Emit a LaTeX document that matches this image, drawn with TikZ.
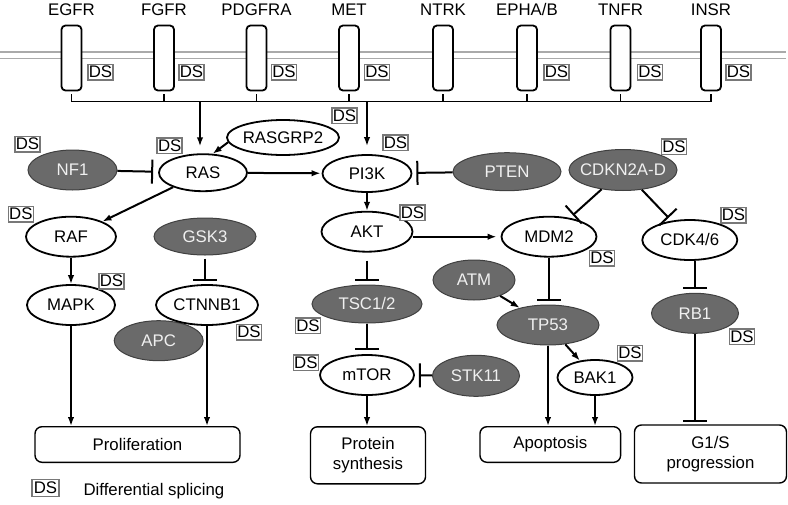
\documentclass[tikz,border=0pt]{standalone}
\usepackage{fontspec}
\setmainfont{Liberation Sans}
\usetikzlibrary{arrows.meta,shapes.geometric}
\newcommand{\zw}[1]{\makebox[0pt]{#1}}
\definecolor{dkgray}{RGB}{106,106,106}
\definecolor{dsgray}{RGB}{120,120,120}
\definecolor{memgray}{RGB}{170,170,170}
\begin{document}
\begin{tikzpicture}[x=1pt,y=-1pt,
  every node/.style={font=\fontsize{16.8}{20}\selectfont},
  sz/.style 2 args={minimum width=#1pt, minimum height=#2pt},
  ell/.style={ellipse, draw=black, line width=1.8pt, fill=white, inner sep=0pt, text height=11.8pt, text depth=0pt},
  dark/.style={ellipse, draw=black!75, line width=1pt, fill=dkgray, text=white!94!black, inner sep=0pt, text height=11.8pt, text depth=0pt},
  ds/.style={draw=dsgray, line width=1.5pt, fill=white, minimum width=25pt, minimum height=15.5pt, inner sep=0pt, text height=11.8pt, text depth=0pt},
  rec/.style={draw=black, line width=1.8pt, rounded corners=4pt, fill=white, minimum width=20pt, minimum height=65pt, inner sep=0pt},
  outbox/.style={draw=black, line width=1.4pt, rounded corners=7pt, fill=white, inner sep=0pt, align=center},
  arr/.style={line width=2pt, -{Latex[length=9pt,width=6.5pt]}},
  inh/.style={line width=2pt, -{Bar[width=24pt,line width=2pt]}, shorten >=4pt},
  ln/.style={line width=1.6pt}
]
\useasboundingbox (0,0) rectangle (788,504);
% membrane
\draw[memgray, line width=1.6pt] (0,52) -- (786,52);
\draw[memgray, line width=1.6pt] (0,58.5) -- (786,58.5);
% receptors
\foreach \n/\x/\t in {egfr/71.5/EGFR, fgfr/164/FGFR, pdgfra/256.5/PDGFRA, met/349/MET, ntrk/443/NTRK, epha/527/EPHA\slash B, tnfr/620.5/TNFR, insr/711/INSR}{
  \node[rec] (\n) at (\x,58) {};
  \node[anchor=base] (l\n) at (\x,15) {\t};
}
\foreach \n/\x in {egfr/100.5, fgfr/191.5, pdgfra/284, met/377, epha/556.5, tnfr/650, insr/738.5}{
  \node[ds] (ds\n) at (\x,72) {\zw{DS}};
}
% bus
\coordinate (busL) at (71.5,101.5);
\coordinate (busR) at (711,101.5);
\draw[ln] (busL) -- (busR);
\foreach \n in {egfr,fgfr,pdgfra,met,ntrk,epha,tnfr,insr}{
  \draw[ln, shorten <=3pt] (\n.south) -- (\n.south |- busL);
}
% nodes
\node[ell, sz={88}{37}] (ras) at (203,172.7) {\zw{RAS}};
\node[ell, sz={112}{35}] (rasgrp2) at (283,137.5) {\zw{RASGRP2}};
\node[ell, sz={89}{37}] (pi3k) at (367,173.5) {\zw{PI3K}};
\node[dark, sz={89}{40}] (nf1) at (72.5,170) {\zw{NF1}};
\node[ell, sz={90}{40}] (raf) at (71,236.7) {\zw{RAF}};
\node[dark, sz={102}{37}] (gsk3) at (205,236.5) {\zw{GSK3}};
\node[ell, sz={88}{40}] (mapk) at (71,305) {\zw{MAPK}};
\node[dark, sz={89}{40}] (apc) at (158.7,340.7) {\zw{APC}};
\node[ell, fill=none, sz={102}{40}] (ctnnb1) at (207,305) {\zw{CTNNB1}};
\node[ell, sz={91}{40}] (akt) at (367,231.7) {\zw{AKT}};
\node[ell, sz={95}{40}] (mdm2) at (549,236.7) {\zw{MDM2}};
\node[dark, sz={110}{38}] (tsc) at (367,304) {\zw{TSC1/2}};
\node[ell, sz={94}{40}] (mtor) at (367,375) {\zw{mTOR}};
\node[dark, sz={87}{41}] (stk11) at (476,375.8) {\zw{STK11}};
\node[dark, sz={108}{38}] (pten) at (507,171.7) {\zw{PTEN}};
\node[dark, sz={108}{41}] (cdkn) at (623,170) {\zw{CDKN2A-D}};
\node[ell, sz={95}{40}] (cdk46) at (689.8,240) {\zw{CDK4/6}};
\node[dark, sz={87}{40}] (rb1) at (695,313.3) {\zw{RB1}};
\node[dark, sz={82}{40}] (atm) at (474,280) {\zw{ATM}};
\node[dark, sz={102}{40}] (tp53) at (548,325) {\zw{TP53}};
\node[ell, sz={75}{35}] (bak1) at (595,377.5) {\zw{BAK1}};
% outcome boxes
\node[outbox, sz={205}{35.6}] (prolif) at (137.5,444.5) {Proliferation};
\node[outbox, sz={115}{57}] (protein) at (368,455.3) {Protein\\synthesis};
\node[outbox, sz={140.7}{35.6}] (apop) at (550.3,444.5) {Apoptosis};
\node[outbox, sz={152}{58}] (g1s) at (710.5,454) {G1/S\\progression};
% DS labels
\node[ds] (dsrasgrp2) at (344.5,115.5) {\zw{DS}};
\node[ds] (dspi3k) at (395.5,142.5) {\zw{DS}};
\node[ds] (dsras) at (169.7,145.5) {\zw{DS}};
\node[ds] (dsnf1) at (27.5,144) {\zw{DS}};
\node[ds] (dsraf) at (20.8,214) {\zw{DS}};
\node[ds] (dsmapk) at (111.5,281) {\zw{DS}};
\node[ds] (dsctnnb1) at (249,332) {\zw{DS}};
\node[ds] (dsakt) at (412.5,212.5) {\zw{DS}};
\node[ds] (dsmdm2) at (602,258) {\zw{DS}};
\node[ds] (dstsc) at (308,325.5) {\zw{DS}};
\node[ds] (dsmtor) at (305.8,362.5) {\zw{DS}};
\node[ds] (dscdkn) at (674,146.5) {\zw{DS}};
\node[ds] (dscdk46) at (733.5,215) {\zw{DS}};
\node[ds] (dsrb1) at (742,336.5) {\zw{DS}};
\node[ds] (dsbak1) at (630,353) {\zw{DS}};
% legend
\node[ds, sz={27}{17}] (dsleg) at (45.5,488) {\zw{DS}};
\node[anchor=base west] (legtext) at (80,495.5) {Differential splicing};
% connectors from bus
\coordinate (bras) at (200,101.5);
\coordinate (bpi3k) at (367,101.5);
\draw[arr, shorten >=7pt] (bras) -- (bras |- ras.north);
\draw[arr, shorten >=8pt] (bpi3k) -- (bpi3k |- pi3k.north);
% edges
\draw[arr] (rasgrp2.185) -- (ras.63);
\draw[inh, shorten >=5pt] (nf1) -- (ras);
\draw[arr, shorten >=1pt] (ras) -- (pi3k);
\draw[arr] (ras) -- (raf);
\draw[arr] (raf) -- (mapk);
\draw[inh, shorten >=3pt, shorten <=3pt] (gsk3.south) -- (gsk3.south |- ctnnb1.north);
\draw[arr] (mapk.south) -- (mapk.south |- prolif.north);
\draw[arr] (ctnnb1.south) -- (ctnnb1.south |- prolif.north);
\draw[arr] (pi3k) -- (akt);
\draw[inh] (pten) -- (pi3k);
\draw[arr, shorten >=4pt] (akt.east |- mdm2) -- (mdm2.west);
\draw[inh, shorten <=8pt] (akt) -- (tsc);
\draw[inh] (tsc) -- (mtor);
\draw[inh] (stk11) -- (mtor);
\draw[arr] (mtor.south) -- (mtor.south |- protein.north);
\draw[inh] (cdkn) -- (mdm2);
\draw[inh] (cdkn) -- (cdk46);
\draw[inh] (rb1 |- cdk46.south) -- (rb1.north);
\draw[inh, shorten >=2pt] (rb1.south) -- (rb1.south |- g1s.north);
\draw[arr] (atm) -- (tp53);
\draw[inh] (mdm2.south) -- (mdm2.south |- tp53.north);
\draw[arr] (tp53) -- (bak1);
\draw[arr] (tp53.south) -- (tp53.south |- apop.north);
\draw[arr] (bak1.south) -- (bak1.south |- apop.north);
\end{tikzpicture}
\end{document}
